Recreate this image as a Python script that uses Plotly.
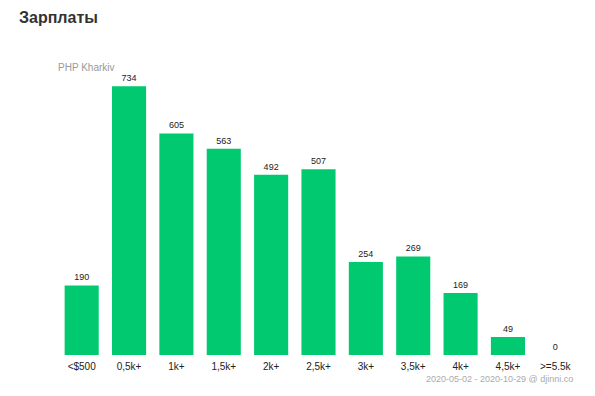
import plotly.graph_objects as go

categories = ["<$500", "0,5k+", "1k+", "1,5k+", "2k+", "2,5k+", "3k+", "3,5k+", "4k+", "4,5k+", ">=5.5k"]
values = [190, 734, 605, 563, 492, 507, 254, 269, 169, 49, 0]

# page body has an 8px margin; compensate
L, T, W, H = 50, 54, 521, 293

fig = go.Figure(go.Bar(
    x=categories, y=values,
    marker=dict(color="#00c96f", line=dict(width=0)),
    text=[str(v) for v in values], textposition="outside",
    textfont=dict(size=9, color="#222", family="Liberation Sans, Arial"),
    cliponaxis=False,
))

fig.update_layout(
    width=587, height=388,
    margin=dict(l=L, r=587 - L - W, t=T, b=388 - T - H),
    paper_bgcolor="white", plot_bgcolor="white",
    bargap=0.28,
    showlegend=False,
    font=dict(family="Liberation Sans, Arial", size=10, color="#222"),
    xaxis=dict(showgrid=False, showline=False, zeroline=False, ticks="",
               ticklabelstandoff=4,
               tickfont=dict(size=10, color="#222")),
    yaxis=dict(range=[0, 800], visible=False),
)


def px(x):
    return (x - 8 - L) / W


def py(y):
    return 1 - (y - 8 - T) / H


fig.add_annotation(text="<b>Зарплаты</b>", xref="paper", yref="paper", x=px(17), y=py(18),
                   xanchor="left", yanchor="middle", showarrow=False,
                   font=dict(size=16, color="#333", family="Liberation Sans, Arial"))
fig.add_annotation(text="PHP Kharkiv", xref="paper", yref="paper", x=px(56), y=py(67),
                   xanchor="left", yanchor="middle", showarrow=False,
                   font=dict(size=10, color="#999", family="Liberation Sans, Arial"))
fig.add_annotation(text="2020-05-02 - 2020-10-29 @ djinni.co", xref="paper", yref="paper",
                   x=px(575), y=py(379),
                   xanchor="right", yanchor="middle", showarrow=False,
                   font=dict(size=9, color="#aaa", family="Liberation Sans, Arial"))

fig.write_html("out.html")
